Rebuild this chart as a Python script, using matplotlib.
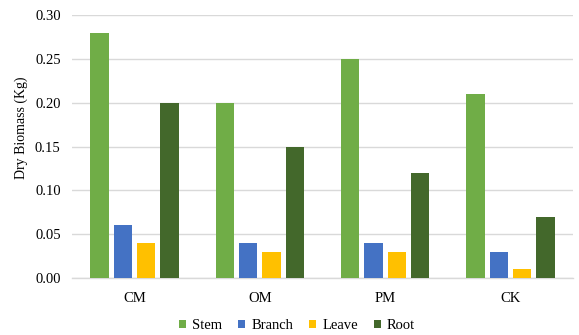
import matplotlib
matplotlib.use("Agg")
import matplotlib.pyplot as plt
import numpy as np

plt.rcParams['font.family'] = ['Liberation Serif', 'DejaVu Serif']

treatments = ["CM", "OM", "PM", "CK"]
parts = ["Stem", "Branch", "Leave", "Root"]
stem = [0.28, 0.20, 0.25, 0.21]
branch = [0.06, 0.04, 0.04, 0.03]
leave = [0.04, 0.03, 0.03, 0.01]
root = [0.20, 0.15, 0.12, 0.07]
colors = ["#70AD47", "#4472C4", "#FFC000", "#43682B"]
yticks = [0.00, 0.05, 0.10, 0.15, 0.20, 0.25, 0.30]

fig = plt.figure(figsize=(5.79, 3.35), dpi=100)
ax = fig.add_axes([0.124, 0.170, 0.866, 0.785])

x = np.arange(len(treatments))
step = 0.186
width = 0.148
for i, (name, vals) in enumerate(zip(parts, [stem, branch, leave, root])):
    ax.bar(x + (i - 1.5) * step, vals, width=width, color=colors[i],
           label=name, zorder=3)

ax.set_xlim(-0.5, len(treatments) - 0.5)
ax.set_ylim(0, 0.30)
ax.set_yticks(yticks)
ax.set_yticklabels([f"{v:.2f}" for v in yticks], fontsize=10.5)
ax.set_xticks(x)
ax.set_xticklabels(treatments, fontsize=10.5)
ax.tick_params(length=0, pad=8)
ax.tick_params(axis='x', pad=10)
ax.grid(axis='y', color="#D9D9D9", linewidth=1, zorder=0)
for s in ["top", "right", "left"]:
    ax.spines[s].set_visible(False)
ax.spines["bottom"].set_color("#D9D9D9")
ax.spines["bottom"].set_linewidth(1)
ax.set_ylabel("Dry Biomass (Kg)", fontsize=10)
ax.yaxis.set_label_coords(-0.088, 0.57)

fig.legend(loc="center", bbox_to_anchor=(0.513, 0.027), ncol=4,
           frameon=False, fontsize=10.5, handlelength=0.5, handleheight=0.5,
           columnspacing=1.1, handletextpad=0.4)

fig.savefig("out.png", dpi=100)
